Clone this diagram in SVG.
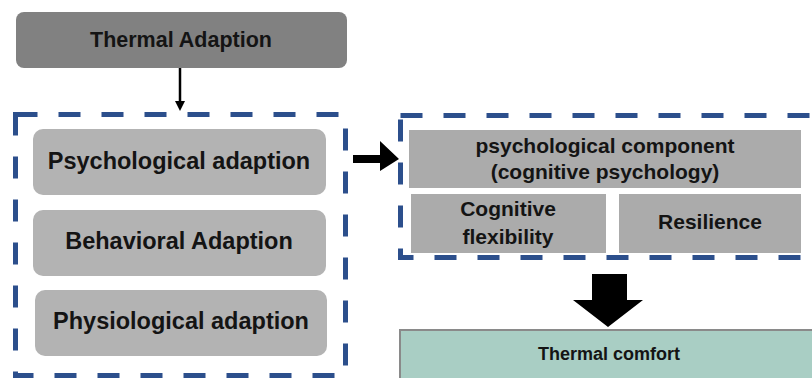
<svg xmlns="http://www.w3.org/2000/svg" width="812" height="378" viewBox="0 0 812 378">
<style>
.t{font-family:"Liberation Sans",Arial,sans-serif;font-weight:bold;fill:#141414;text-anchor:middle}
.dash{fill:none;stroke:#2c4f8c;stroke-width:5;stroke-dasharray:22 21}
.g1{fill:#b3b3b3}
.g2{fill:#ababab}
</style>
<defs>
<marker id="ah" markerWidth="10" markerHeight="10" refX="5" refY="5" orient="auto" markerUnits="userSpaceOnUse">
<path d="M0,0 L10,5 L0,10 z" fill="#000"/>
</marker>
</defs>
<rect width="812" height="378" fill="#fff"/>
<g id="thermal-adaption">
<rect x="16" y="12" width="331" height="56" rx="8" fill="#818181"/>
<text class="t" x="181" y="47" font-size="21.5">Thermal Adaption</text>
</g>
<g id="adaption-group">
<rect class="dash" x="15.5" y="114.5" width="330" height="261"/>
</g>
<g id="psychological-adaption">
<rect class="g1" x="33" y="129" width="293" height="66" rx="10"/>
<text class="t" x="179" y="169" font-size="23.5">Psychological adaption</text>
</g>
<g id="behavioral-adaption">
<rect class="g1" x="33" y="210" width="293" height="66" rx="10"/>
<text class="t" x="179" y="249" font-size="23.5">Behavioral Adaption</text>
</g>
<g id="physiological-adaption">
<rect class="g1" x="35" y="290" width="292" height="66" rx="10"/>
<text class="t" x="181" y="329" font-size="23.5">Physiological adaption</text>
</g>
<g id="cognitive-group">
<rect class="dash" x="400.5" y="115.5" width="430" height="142"/>
</g>
<g id="psychological-component">
<rect class="g2" x="409" y="130" width="392" height="58"/>
<text class="t" x="605" y="153" font-size="21">psychological component</text>
<text class="t" x="605" y="179" font-size="21">(cognitive psychology)</text>
</g>
<g id="cognitive-flexibility">
<rect class="g2" x="411" y="194" width="195" height="59"/>
<text class="t" x="508" y="216" font-size="21">Cognitive</text>
<text class="t" x="508" y="244" font-size="21">flexibility</text>
</g>
<g id="resilience">
<rect class="g2" x="619" y="194" width="182" height="59"/>
<text class="t" x="710" y="229" font-size="21">Resilience</text>
</g>
<g id="thermal-comfort">
<rect x="400" y="330" width="420" height="60" fill="#a9cec4" stroke="#8a8a8a" stroke-width="2"/>
<text class="t" x="609" y="360" font-size="18">Thermal comfort</text>
</g>
<g id="connectors">
<line x1="180" y1="68" x2="180" y2="106" stroke="#000" stroke-width="2.5" marker-end="url(#ah)"/>
<path d="M353,155 L380,155 L380,141 L399,159 L380,171 L380,163 L353,163 z" fill="#000"/>
<path d="M592,274 L627,274 L627,300 L643,300 L608,327 L573,300 L592,300 z" fill="#000"/>
</g>
</svg>
